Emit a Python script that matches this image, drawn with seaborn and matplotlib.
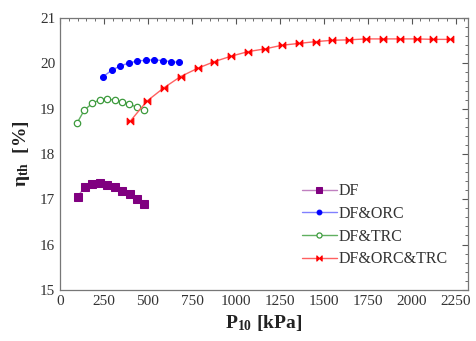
import matplotlib
matplotlib.use("Agg")
import matplotlib.pyplot as plt
import seaborn as sns
import pandas as pd
import numpy as np
from matplotlib.path import Path
from matplotlib.ticker import MultipleLocator

# Data
x_df = [100, 142, 184, 227, 269, 311, 353, 396, 438, 480]
y_df = [17.06, 17.28, 17.34, 17.36, 17.32, 17.28, 17.19, 17.12, 17.00, 16.89]

x_orc = [246, 294, 341, 392, 439, 489, 536, 584, 631, 678]
y_orc = [19.71, 19.85, 19.94, 20.01, 20.05, 20.07, 20.08, 20.06, 20.04, 20.02]

x_trc = [96, 138, 184, 228, 268, 313, 353, 394, 438, 480]
y_trc = [18.68, 18.97, 19.12, 19.20, 19.21, 19.19, 19.15, 19.10, 19.03, 18.96]

x_all = [400, 495, 590, 686, 782, 878, 974, 1070, 1166, 1262,
         1358, 1453, 1549, 1645, 1740, 1836, 1932, 2028, 2124, 2220]
y_all = [18.73, 19.17, 19.46, 19.71, 19.89, 20.04, 20.16, 20.26, 20.32, 20.40,
         20.44, 20.48, 20.51, 20.52, 20.54, 20.54, 20.54, 20.54, 20.53, 20.53]

labels = ["DF", "DF&ORC", "DF&TRC", "DF&ORC&TRC"]
x_ticks = [0, 250, 500, 750, 1000, 1250, 1500, 1750, 2000, 2250]
y_ticks = [15, 16, 17, 18, 19, 20, 21]

sns.set_style("white")
plt.rcParams['font.family'] = ['Liberation Serif', 'DejaVu Serif']
plt.rcParams['mathtext.fontset'] = 'custom'
plt.rcParams['mathtext.rm'] = 'Liberation Serif'
plt.rcParams['mathtext.bf'] = 'Liberation Serif:bold'
plt.rcParams['mathtext.it'] = 'Liberation Serif:italic'

fig = plt.figure(figsize=(4.77, 3.41), dpi=100)
ax = fig.add_axes([0.126, 0.150, 0.855, 0.797])

bowtie = Path([(-1, -1), (-1, 1), (0, 0), (1, 1), (1, -1), (0, 0), (-1, -1)],
              [Path.MOVETO, Path.LINETO, Path.LINETO, Path.LINETO, Path.LINETO,
               Path.LINETO, Path.CLOSEPOLY])

series = [
    (x_df, y_df, labels[0], dict(marker="s", markersize=5.2, markerfacecolor="#800080",
                                 markeredgecolor="#800080"), "#c080c0"),
    (x_orc, y_orc, labels[1], dict(marker="o", markersize=4.3, markerfacecolor="#0000ff",
                                   markeredgecolor="#0000ff"), "#8080ff"),
    (x_trc, y_trc, labels[2], dict(marker="o", markersize=4.6, markerfacecolor="white",
                                   markeredgecolor="#3c9a3c", markeredgewidth=0.9), "#60b060"),
    (x_all, y_all, labels[3], dict(marker=bowtie, markersize=4.8, markerfacecolor="#ff0000",
                                   markeredgecolor="#ff0000"), "#ff6060"),
]

for xs, ys, lab, mk, lcol in series:
    df = pd.DataFrame({"x": xs, "y": ys})
    sns.lineplot(data=df, x="x", y="y", ax=ax, color=lcol, linewidth=1.0,
                 label=lab, sort=False, **mk)

ax.set_xlim(0, 2320)
ax.set_ylim(15, 21)
ax.set_xticks(x_ticks)
ax.set_yticks(y_ticks)
ax.xaxis.set_minor_locator(MultipleLocator(50))
ax.yaxis.set_minor_locator(MultipleLocator(0.2))
ax.tick_params(which="both", direction="in", top=True, right=True, colors="#555555",
               labelcolor="#333333")
ax.tick_params(which="major", length=4, width=0.8, labelsize=11)
ax.tick_params(which="minor", length=2, width=0.6)
for s in ax.spines.values():
    s.set_color("#777777")
    s.set_linewidth(0.9)

ax.set_xlabel(r"$\mathbf{P_{10}}$ [kPa]", fontsize=14, fontweight="bold", color="#222222", labelpad=4)
ax.set_ylabel(r"$\mathbf{\eta_{th}}$  [%]", fontsize=14, fontweight="bold", color="#222222", labelpad=6)

leg = ax.legend(loc="lower right", bbox_to_anchor=(0.985, 0.03), frameon=False, fontsize=11.5,
                handlelength=2.2, handletextpad=0.1, labelspacing=0.42, markerscale=0.8)
for t in leg.get_texts():
    t.set_color("#333333")

fig.savefig("out.png", dpi=100)
